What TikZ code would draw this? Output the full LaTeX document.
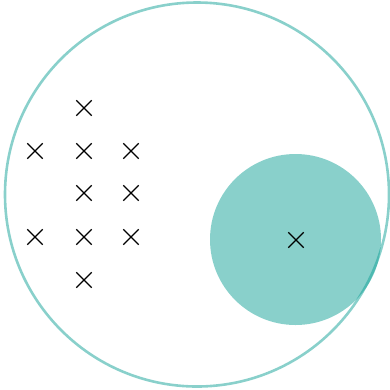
\documentclass[tikz,border=0pt]{standalone}
\usepackage{xcolor}
\usepackage{tikz}
\usetikzlibrary{shapes.misc}

\definecolor{tealbase}{RGB}{20,162,152}

\begin{document}
\begin{tikzpicture}[x=1pt, y=-1pt, pt/.style={draw, cross out, line width=1.3pt, minimum size=14pt, inner sep=0pt}]

\useasboundingbox (0,0) rectangle (390,389);

\fill [tealbase, opacity=0.5] (295.5,239.5) circle (85.5);
\draw [tealbase, opacity=0.5, line width=2.6pt] (197,194.5) circle (192);

\node [pt] (a1) at (84,108) {};
\node [pt] (b1) at (35,151) {};
\node [pt] (b2) at (84,151) {};
\node [pt] (b3) at (131,151) {};
\node [pt] (c2) at (84,193) {};
\node [pt] (c3) at (131,193) {};
\node [pt] (d1) at (35,237) {};
\node [pt] (d2) at (84,237) {};
\node [pt] (d3) at (131,237) {};
\node [pt] (e2) at (84,280) {};
\node [pt] (center) at (296,240) {};

\end{tikzpicture}
\end{document}
